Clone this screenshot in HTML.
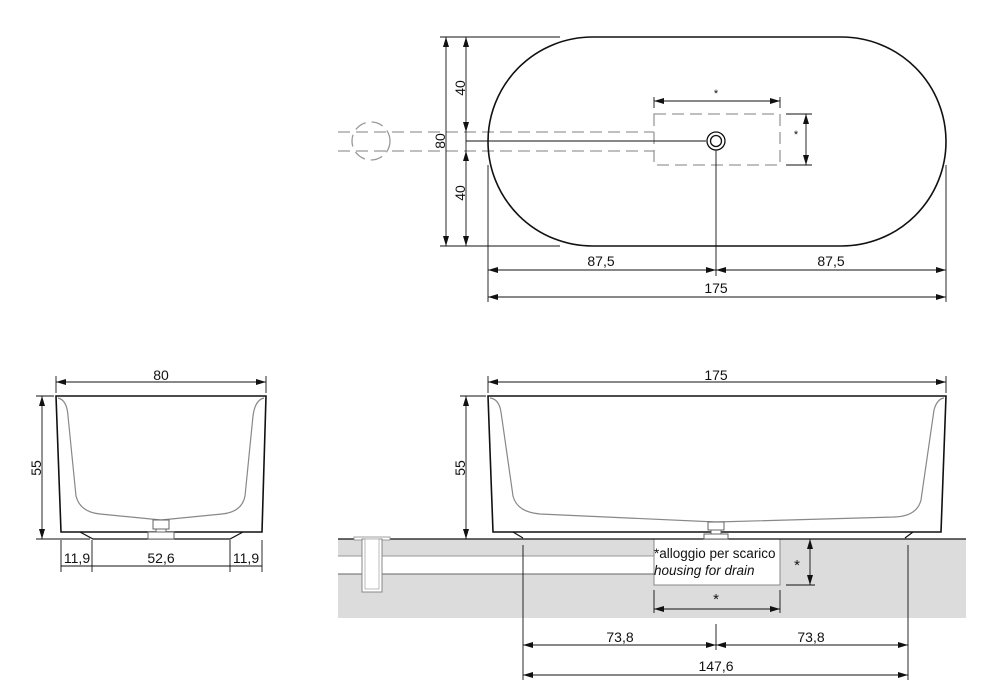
<!DOCTYPE html>
<html><head><meta charset="utf-8"><style>
html,body{margin:0;padding:0;background:#fff;width:1000px;height:700px;overflow:hidden}
svg{display:block}
text{font-family:"Liberation Sans",sans-serif;font-size:14px;fill:#111}
</style></head><body>
<svg width="1000" height="700" viewBox="0 0 1000 700" xmlns="http://www.w3.org/2000/svg">
<defs>
<marker id="a" viewBox="0 0 10 6" refX="10" refY="3" markerWidth="10" markerHeight="6" orient="auto-start-reverse" markerUnits="userSpaceOnUse"><path d="M0,0L10,3L0,6z" fill="#111"/></marker>
</defs>

<!-- ===== TOP VIEW ===== -->
<g stroke="#999" stroke-width="1.3" fill="none" stroke-dasharray="12,6">
<line x1="338" y1="132" x2="654" y2="132"/>
<line x1="338" y1="151" x2="654" y2="151"/>
<circle cx="371" cy="141" r="19"/>
<rect x="654" y="114" width="126" height="51"/>
</g>
<rect x="488" y="37" width="458" height="209" rx="104.5" ry="104.5" fill="none" stroke="#111" stroke-width="1.6"/>
<circle cx="716" cy="141" r="9" fill="none" stroke="#111" stroke-width="1.3"/>
<circle cx="716" cy="141" r="5.5" fill="none" stroke="#111" stroke-width="1.3"/>
<g stroke="#111" stroke-width="0.9" fill="none">
<line x1="440" y1="37" x2="560" y2="37"/>
<line x1="440" y1="246" x2="560" y2="246"/>
<line x1="446" y1="37" x2="446" y2="246" marker-start="url(#a)" marker-end="url(#a)"/>
<line x1="466" y1="37" x2="466" y2="132" marker-start="url(#a)" marker-end="url(#a)"/>
<line x1="466" y1="151" x2="466" y2="246" marker-start="url(#a)" marker-end="url(#a)"/>
<line x1="466" y1="132" x2="466" y2="151"/>
<line x1="466" y1="141" x2="706" y2="141"/>
<line x1="716" y1="150" x2="716" y2="276"/>
<line x1="488" y1="165" x2="488" y2="302"/>
<line x1="946" y1="165" x2="946" y2="302"/>
<line x1="488" y1="270" x2="716" y2="270" marker-start="url(#a)" marker-end="url(#a)"/>
<line x1="716" y1="270" x2="946" y2="270" marker-start="url(#a)" marker-end="url(#a)"/>
<line x1="488" y1="297" x2="946" y2="297" marker-start="url(#a)" marker-end="url(#a)"/>
<line x1="654" y1="97" x2="654" y2="108"/>
<line x1="780" y1="97" x2="780" y2="108"/>
<line x1="654" y1="101" x2="780" y2="101" marker-start="url(#a)" marker-end="url(#a)"/>
<line x1="786" y1="114" x2="812" y2="114"/>
<line x1="786" y1="165" x2="812" y2="165"/>
<line x1="806" y1="114" x2="806" y2="165" marker-start="url(#a)" marker-end="url(#a)"/>
</g>
<text transform="translate(465,88) rotate(-90)" text-anchor="middle">40</text>
<text transform="translate(445,141) rotate(-90)" text-anchor="middle">80</text>
<text transform="translate(465,193) rotate(-90)" text-anchor="middle">40</text>
<text x="601" y="266" text-anchor="middle">87,5</text>
<text x="831" y="266" text-anchor="middle">87,5</text>
<text x="716" y="293" text-anchor="middle">175</text>
<text x="716" y="97" text-anchor="middle" style="font-size:11px">*</text>
<text x="796" y="138" text-anchor="middle" style="font-size:11px">*</text>

<!-- ===== SIDE VIEW ===== -->
<path d="M56,396 L266,396 L262,532 L61,532 Z" fill="#fff" stroke="#111" stroke-width="1.6"/>
<path d="M58,398 Q67,400 68,416 L76,496 Q80,512 100,514 L161,520 L222,514 Q242,512 245,496 L253,416 Q255,400 264,398" fill="none" stroke="#888" stroke-width="1.2"/>
<path d="M80,532 L93,539 L230,539 L243,532" fill="none" stroke="#111" stroke-width="1.2"/>
<g fill="#fff" stroke="#666" stroke-width="1"><rect x="153" y="520" width="16" height="9"/><rect x="148" y="532" width="26" height="7"/><rect x="156" y="529" width="10" height="3"/></g>
<g stroke="#111" stroke-width="0.9" fill="none">
<line x1="56" y1="376" x2="56" y2="393"/><line x1="266" y1="376" x2="266" y2="393"/>
<line x1="56" y1="382" x2="266" y2="382" marker-start="url(#a)" marker-end="url(#a)"/>
<line x1="36" y1="396" x2="54" y2="396"/><line x1="36" y1="539" x2="90" y2="539"/>
<line x1="42" y1="396" x2="42" y2="539" marker-start="url(#a)" marker-end="url(#a)"/>
<line x1="61" y1="540" x2="61" y2="572"/><line x1="92" y1="540" x2="92" y2="572"/>
<line x1="230" y1="540" x2="230" y2="572"/><line x1="262" y1="540" x2="262" y2="572"/>
<line x1="61" y1="566" x2="262" y2="566"/>
</g>
<text x="161" y="380" text-anchor="middle">80</text>
<text transform="translate(41,468) rotate(-90)" text-anchor="middle">55</text>
<text x="77" y="563" text-anchor="middle">11,9</text>
<text x="161" y="563" text-anchor="middle">52,6</text>
<text x="246" y="563" text-anchor="middle">11,9</text>

<!-- ===== FRONT VIEW ===== -->
<rect x="338" y="539" width="628" height="79" fill="#dcdcdc"/>
<rect x="338" y="556" width="316" height="18" fill="#fff"/>
<line x1="338" y1="556" x2="654" y2="556" stroke="#999" stroke-width="1"/>
<line x1="338" y1="574" x2="654" y2="574" stroke="#666" stroke-width="1"/>
<rect x="654" y="539" width="126" height="46" fill="#fff" stroke="#888" stroke-width="1"/>
<line x1="338" y1="539" x2="966" y2="539" stroke="#111" stroke-width="1.3"/>
<rect x="354" y="537" width="36" height="3" fill="#fff" stroke="#888" stroke-width="0.8"/>
<rect x="362" y="539" width="20" height="53" fill="#fff" stroke="#888" stroke-width="1"/>
<rect x="365" y="539" width="14" height="50" fill="#fff" stroke="#aaa" stroke-width="0.8"/>
<path d="M488,396 L946,396 L941,532 L493,532 Z" fill="#fff" stroke="#111" stroke-width="1.6"/>
<path d="M490,398 Q499,399 501,412 L513,496 Q517,512 540,514 L716,522 L895,517 Q917,516 921,500 L934,410 Q937,399 944,398" fill="none" stroke="#888" stroke-width="1.2"/>
<path d="M513,532 L523,538 M905,538 L913,532" stroke="#111" stroke-width="1.2"/>
<g fill="#fff" stroke="#666" stroke-width="1"><rect x="708" y="522" width="16" height="8"/><rect x="704" y="534" width="24" height="5"/><rect x="711" y="530" width="10" height="4"/></g>
<g stroke="#111" stroke-width="0.9" fill="none">
<line x1="488" y1="376" x2="488" y2="393"/><line x1="946" y1="376" x2="946" y2="393"/>
<line x1="488" y1="382" x2="946" y2="382" marker-start="url(#a)" marker-end="url(#a)"/>
<line x1="460" y1="396" x2="486" y2="396"/>
<line x1="466" y1="396" x2="466" y2="539" marker-start="url(#a)" marker-end="url(#a)"/>
<line x1="523" y1="545" x2="523" y2="680"/><line x1="908" y1="545" x2="908" y2="680"/>
<line x1="716" y1="624" x2="716" y2="650"/>
<line x1="523" y1="645" x2="716" y2="645" marker-start="url(#a)" marker-end="url(#a)"/>
<line x1="716" y1="645" x2="908" y2="645" marker-start="url(#a)" marker-end="url(#a)"/>
<line x1="523" y1="675" x2="908" y2="675" marker-start="url(#a)" marker-end="url(#a)"/>
<line x1="654" y1="590" x2="654" y2="613"/><line x1="780" y1="590" x2="780" y2="613"/>
<line x1="654" y1="609" x2="780" y2="609" marker-start="url(#a)" marker-end="url(#a)"/>
<line x1="786" y1="585" x2="815" y2="585"/>
<line x1="810" y1="539" x2="810" y2="585" marker-start="url(#a)" marker-end="url(#a)"/>
</g>
<text x="716" y="380" text-anchor="middle">175</text>
<text transform="translate(465,468) rotate(-90)" text-anchor="middle">55</text>
<text x="654" y="558" style="font-size:13.5px">*alloggio per scarico</text>
<text x="654" y="575" style="font-size:13.5px;font-style:italic">housing for drain</text>
<text x="797" y="570" text-anchor="middle" style="font-size:15px">*</text>
<text x="716" y="604" text-anchor="middle" style="font-size:15px">*</text>
<text x="620" y="642" text-anchor="middle">73,8</text>
<text x="811" y="642" text-anchor="middle">73,8</text>
<text x="716" y="671" text-anchor="middle">147,6</text>
</svg>
</body></html>
